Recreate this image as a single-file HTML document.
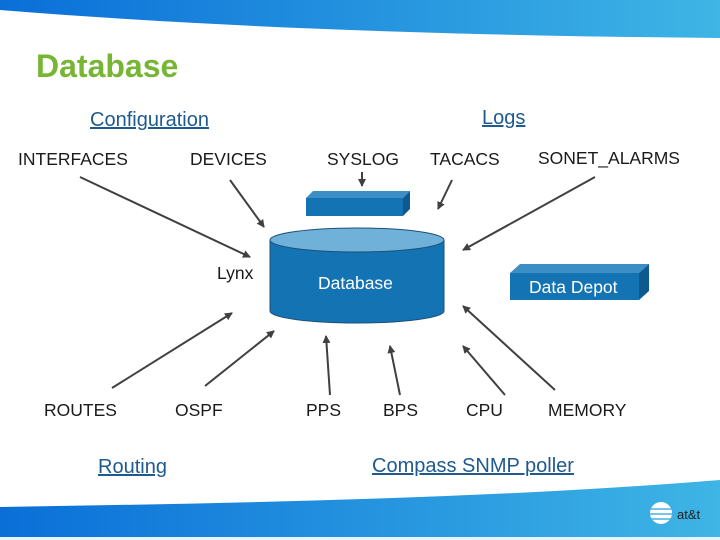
<!DOCTYPE html>
<html><head><meta charset="utf-8"><style>
body{margin:0;background:#fff}
svg{display:block}
text{font-family:"Liberation Sans",sans-serif;font-size:17.5px;fill:#1a1a1a}
.u{fill:#1e5a8e;text-decoration:underline;font-size:20px}
</style></head><body>
<svg width="720" height="540" viewBox="0 0 720 540" xmlns="http://www.w3.org/2000/svg">
<defs>
<linearGradient id="g" x1="0" x2="1"><stop offset="0" stop-color="#0a6fd8"/><stop offset="1" stop-color="#3eb5e5"/></linearGradient>
<marker id="a" markerWidth="8" markerHeight="8" refX="7" refY="4" orient="auto" markerUnits="userSpaceOnUse"><path d="M0,0 L8,4 L0,8 Z" fill="#404040"/></marker>
</defs>
<path d="M0,0 H720 V38 C500,36 250,30 0,10 Z" fill="url(#g)"/>
<path d="M0,507 C250,503 500,498 720,480 V537 H0 Z" fill="url(#g)"/>
<rect x="0" y="537" width="720" height="3" fill="#e8f4fb"/>
<text x="36" y="77" style="font-size:32px;font-weight:bold;fill:#77b534">Database</text>
<text x="90" y="126" class="u">Configuration</text>
<text x="482" y="124" class="u">Logs</text>
<text x="18" y="165">INTERFACES</text>
<text x="190" y="165">DEVICES</text>
<text x="327" y="165">SYSLOG</text>
<text x="430" y="165">TACACS</text>
<text x="538" y="164">SONET_ALARMS</text>
<text x="217" y="279">Lynx</text>
<text x="44" y="416">ROUTES</text>
<text x="175" y="416">OSPF</text>
<text x="306" y="416">PPS</text>
<text x="383" y="416">BPS</text>
<text x="466" y="416">CPU</text>
<text x="548" y="416">MEMORY</text>
<text x="98" y="473" class="u">Routing</text>
<text x="372" y="472" class="u">Compass SNMP poller</text>
<g stroke="#404040" stroke-width="2" marker-end="url(#a)">
<line x1="80" y1="177" x2="250" y2="257"/>
<line x1="230" y1="180" x2="264" y2="227"/>
<line x1="362" y1="172" x2="362" y2="186"/>
<line x1="452" y1="180" x2="438" y2="209"/>
<line x1="595" y1="177" x2="463" y2="250"/>
<line x1="112" y1="388" x2="232" y2="313"/>
<line x1="205" y1="386" x2="274" y2="331"/>
<line x1="330" y1="395" x2="326" y2="336"/>
<line x1="400" y1="395" x2="390" y2="346"/>
<line x1="505" y1="395" x2="463" y2="346"/>
<line x1="555" y1="390" x2="463" y2="306"/>
</g>
<path d="M306,198 L313,191 L410,191 L403,198 Z" fill="#3b8fc4"/>
<path d="M403,198 L410,191 L410,209 L403,216 Z" fill="#0d5a8f"/>
<rect x="306" y="198" width="97" height="18" fill="#1473b3"/>
<path d="M270,240 V311 A87,12 0 0 0 444,311 V240 Z" fill="#1473b3" stroke="#1d4f7a" stroke-width="1"/>
<ellipse cx="357" cy="240" rx="87" ry="12" fill="#6fb1d9" stroke="#1d4f7a" stroke-width="1"/>
<text x="318" y="289" style="fill:#fff">Database</text>
<path d="M510,273 L520,264 L649,264 L639,273 Z" fill="#3b8fc4"/>
<path d="M639,273 L649,264 L649,291 L639,300 Z" fill="#0d5a8f"/>
<rect x="510" y="273" width="129" height="27" fill="#1473b3"/>
<text x="529" y="293" style="fill:#fff">Data Depot</text>
<circle cx="661" cy="513" r="11" fill="#fff"/>
<g stroke="#48b0e2" stroke-width="1.6"><line x1="650" y1="509" x2="672" y2="509"/><line x1="650" y1="514" x2="672" y2="514"/><line x1="651" y1="519" x2="671" y2="519"/></g>
<text x="677" y="519" style="font-size:13px;fill:#222">at&amp;t</text>
</svg>
</body></html>
